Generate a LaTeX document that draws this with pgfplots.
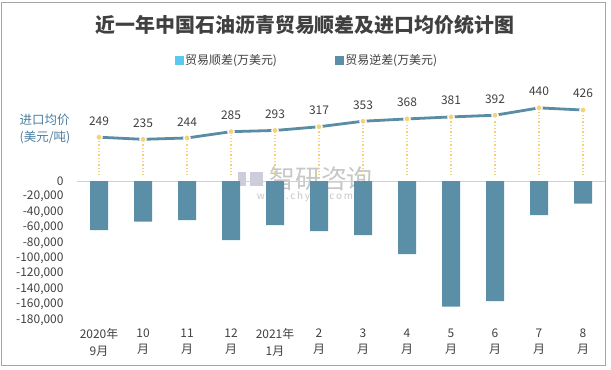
\documentclass[border=0pt]{standalone}
\usepackage{pgfplots}
\pgfplotsset{compat=1.18}
\usepackage{fontspec}
\setmainfont{Noto Sans CJK SC}
\definecolor{barc}{HTML}{5B8FA8}
\definecolor{linec}{HTML}{5A8CA5}
\definecolor{mkc}{HTML}{F5D27A}
\definecolor{posc}{HTML}{5BC8F0}
\definecolor{txtc}{HTML}{404040}
\definecolor{labc}{HTML}{4A7FA0}
\begin{document}
\begin{tikzpicture}[x=1bp,y=1bp]
\path[use as bounding box] (0,0) rectangle (611,369);
\draw[black!35, line width=0.8bp] (1,4) rectangle (605,367);
\node[font=\bfseries\fontsize{20}{24}\selectfont, text=txtc] at (305,344) {近一年中国石油沥青贸易顺差及进口均价统计图};
\node[align=left, text=labc, font=\fontsize{12.5}{18}\selectfont] at (45,240) {进口均价\\(美元/吨)};
\node[text=black!22, font=\fontsize{26}{26}\selectfont] at (321,190) {智研咨询};
\node[text=black!22, font=\fontsize{10}{10}\selectfont] at (305,172) {w\,w\,w\,.\,c\,h\,y\,x\,x\,.\,c\,o\,m};
\fill[blue!30!black!20] (238,183) rectangle (246,197);
\fill[blue!30!black!20] (250,183) rectangle (263,197);
\begin{axis}[at={(77bp,49bp)}, anchor=south west, scale only axis,
  width=528bp, height=239.3bp,
  xmin=-0.5, xmax=11.5, ymin=-180000, ymax=130000,
  ytick={-180000,-160000,-140000,-120000,-100000,-80000,-60000,-40000,-20000,0},
  scaled y ticks=false,
  axis line style={draw=none}, major tick length=0pt,
  xtick={0,1,2,3,4,5,6,7,8,9,10,11},
  xticklabels={{2020年\\9月},{10\\月},{11\\月},{12\\月},{2021年\\1月},{2\\月},{3\\月},{4\\月},{5\\月},{6\\月},{7\\月},{8\\月}},
  xticklabel style={align=center, font=\fontsize{12}{16.5}\selectfont, text=txtc, yshift=-5bp},
  yticklabel style={font=\fontsize{12}{14}\selectfont, text=txtc, xshift=-10bp},
  /pgf/number format/1000 sep={,}, /pgf/number format/fixed,
  /pgf/number format/assume math mode=true,
  extra y ticks={0}, extra y tick labels={},
  extra y tick style={grid=major, major grid style={black!18, line width=0.8bp}},
  legend style={at={(0.4356,1.0865)}, anchor=center, draw=none, fill=none,
    font=\fontsize{12}{14}\selectfont, text=txtc, legend columns=2,
    /tikz/every even column/.append style={column sep=56bp}},
]
\addlegendimage{legend image code/.code={\fill[posc] (0bp,-4bp) rectangle (8bp,4bp);}}
\addlegendentry{贸易顺差(万美元)}
\addlegendimage{legend image code/.code={\fill[barc] (0bp,-4bp) rectangle (8bp,4bp);}}
\addlegendentry{贸易逆差(万美元)}
\addplot[ybar, bar width=18bp, fill=barc, draw=none, forget plot] coordinates {
(0,-63500) (1,-52700) (2,-50500) (3,-76400) (4,-57000) (5,-64800)
(6,-70000) (7,-94600) (8,-162800) (9,-155400) (10,-44000) (11,-29400)};
\end{axis}
\begin{axis}[at={(77bp,49bp)}, anchor=south west, scale only axis,
  width=528bp, height=239.3bp,
  xmin=-0.5, xmax=11.5, ymin=-942, ymax=617,
  axis lines=none, xtick=\empty, ytick=\empty,
  /pgf/number format/assume math mode=true,
]
\addplot[ycomb, mkc, dotted, line width=1.3bp, mark=none] coordinates {
(0,249) (1,235) (2,244) (3,285) (4,293) (5,317) (6,353) (7,368) (8,381) (9,392) (10,440) (11,426)};
\addplot[linec, line width=2.8bp, mark=*, mark size=3.2bp,
  mark options={fill=mkc, draw=white, line width=1.2bp},
  nodes near coords, point meta=explicit symbolic,
  nodes near coords style={font=\fontsize{12}{14}\selectfont, text=txtc, anchor=south, yshift=8bp}]
coordinates {
(0,249) [249] (1,235) [235] (2,244) [244] (3,285) [285] (4,293) [293] (5,317) [317]
(6,353) [353] (7,368) [368] (8,381) [381] (9,392) [392] (10,440) [440] (11,426) [426]};
\end{axis}
\end{tikzpicture}
\end{document}
